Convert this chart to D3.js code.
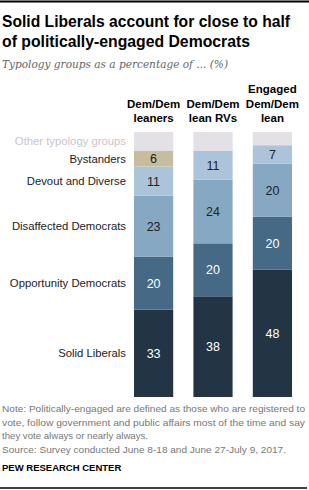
<!DOCTYPE html>
<html>
<head>
<meta charset="utf-8">
<script src="https://cdn.jsdelivr.net/npm/d3@7"></script>
<style>
  body { margin: 0; background: #fff; }
  svg { display: block; font-family: "Liberation Sans", Arial, sans-serif; }
</style>
</head>
<body>
<div id="chart"></div>
<script>
const width = 309;
const height = 490;

// data
const columns = ["leaners", "rvs", "engaged"];
const columnLabels = [["Dem/Dem", "leaners"], ["Dem/Dem", "lean RVs"], ["Engaged", "Dem/Dem", "lean"]];
const groups = ["Solid Liberals", "Opportunity Democrats", "Disaffected Democrats", "Devout and Diverse", "Bystanders", "Other typology groups"];
const solidLiberals = [33, 38, 48];
const opportunity = [20, 20, 20];
const disaffected = [23, 24, 20];
const devout = [11, 11, 7];
const bystanders = [6, 0, 0];
const other = [7, 7, 5];

const colors = ["#233545", "#466a85", "#87a8c3", "#abc4d9", "#c6bd9e", "#e3e0e6"];
const textColors = ["#fff", "#fff", "#222", "#222", "#222", "#222"];

const rows = columns.map((c, i) => ({
  col: c,
  "Solid Liberals": solidLiberals[i],
  "Opportunity Democrats": opportunity[i],
  "Disaffected Democrats": disaffected[i],
  "Devout and Diverse": devout[i],
  "Bystanders": bystanders[i],
  "Other typology groups": other[i]
}));

const series = d3.stack().keys(groups)(rows);

const svg = d3.select("#chart").append("svg")
  .attr("width", width)
  .attr("height", height);

// rules
svg.append("line").attr("x1", 0).attr("x2", 309).attr("y1", 1.5).attr("y2", 1.5)
  .attr("stroke", "#000").attr("stroke-width", 2);
svg.append("line").attr("x1", 0).attr("x2", 307).attr("y1", 488).attr("y2", 488)
  .attr("stroke", "#000").attr("stroke-width", 1.5);

// title
const title = svg.append("text")
  .attr("font-size", 16.5)
  .attr("font-weight", "bold")
  .attr("fill", "#000");
title.append("tspan").attr("x", 2).attr("y", 27)
  .attr("textLength", 288).attr("lengthAdjust", "spacingAndGlyphs")
  .text("Solid Liberals account for close to half");
title.append("tspan").attr("x", 2).attr("y", 47)
  .attr("textLength", 248).attr("lengthAdjust", "spacingAndGlyphs")
  .text("of politically-engaged Democrats");

svg.append("text")
  .attr("x", 2).attr("y", 68)
  .attr("font-family", "'DejaVu Serif', Georgia, serif")
  .attr("font-style", "italic")
  .attr("font-size", 11)
  .attr("fill", "#666")
  .attr("textLength", 226).attr("lengthAdjust", "spacingAndGlyphs")
  .text("Typology groups as a percentage of ... (%)");

const x = d3.scaleBand()
  .domain(columns)
  .range([134, 292])
  .paddingInner(0.34)
  .paddingOuter(0);

const y = d3.scaleLinear()
  .domain([0, 100])
  .range([397, 132]);

// column headers
columns.forEach((c, i) => {
  const lines = columnLabels[i];
  const t = svg.append("text")
    .attr("text-anchor", "middle")
    .attr("font-size", 11.5)
    .attr("font-weight", "bold")
    .attr("fill", "#000");
  lines.forEach((l, j) => {
    t.append("tspan")
      .attr("x", x(c) + x.bandwidth() / 2)
      .attr("y", 122 - (lines.length - 1 - j) * 14.5)
      .text(l);
  });
});

// bars
const layer = svg.selectAll("g.layer")
  .data(series)
  .enter()
  .append("g")
  .attr("class", "layer")
  .attr("fill", (d, i) => colors[i]);

layer.selectAll("rect")
  .data(d => d.map(p => ({p: p, key: d.key})))
  .enter()
  .append("rect")
  .attr("x", d => x(d.p.data.col))
  .attr("width", x.bandwidth())
  .attr("y", d => y(d.p[1]))
  .attr("height", d => y(d.p[0]) - y(d.p[1]));

// value labels
series.forEach((s, i) => {
  if (s.key === "Other typology groups") return;
  svg.selectAll(null)
    .data(s.filter(p => p[1] - p[0] > 0))
    .enter()
    .append("text")
    .attr("x", p => x(p.data.col) + x.bandwidth() / 2)
    .attr("y", p => (y(p[0]) + y(p[1])) / 2)
    .attr("dy", "0.36em")
    .attr("text-anchor", "middle")
    .attr("font-size", 12.5)
    .attr("fill", textColors[i])
    .text(p => p[1] - p[0]);
});

// group labels next to first bar
series.forEach((s, i) => {
  const p = s[0];
  svg.append("text")
    .attr("x", 126)
    .attr("y", (y(p[0]) + y(p[1])) / 2)
    .attr("dy", "0.36em")
    .attr("text-anchor", "end")
    .attr("font-size", 11.3)
    .attr("fill", s.key === "Other typology groups" ? "#c9c6cc" : "#222")
    .text(s.key);
});

// notes
const notes = [
  "Note:  Politically-engaged are defined as those who are registered to",
  "vote, follow government and public affairs most of the time and say",
  "they vote always or nearly always.",
  "Source: Survey conducted June 8-18 and June 27-July 9, 2017."
];
svg.selectAll("text.note")
  .data(notes)
  .enter()
  .append("text")
  .attr("class", "note")
  .attr("x", 2)
  .attr("y", (d, i) => 412 + i * 13.5)
  .attr("font-size", 9.8)
  .attr("fill", "#777")
  .attr("textLength", (d, i) => i < 2 ? 303 : (i === 3 ? 284 : 146))
  .attr("lengthAdjust", "spacingAndGlyphs")
  .text(d => d);

svg.append("text")
  .attr("x", 2).attr("y", 471)
  .attr("font-size", 9.5)
  .attr("font-weight", "bold")
  .attr("fill", "#000")
  .text("PEW RESEARCH CENTER");
</script>
</body>
</html>
